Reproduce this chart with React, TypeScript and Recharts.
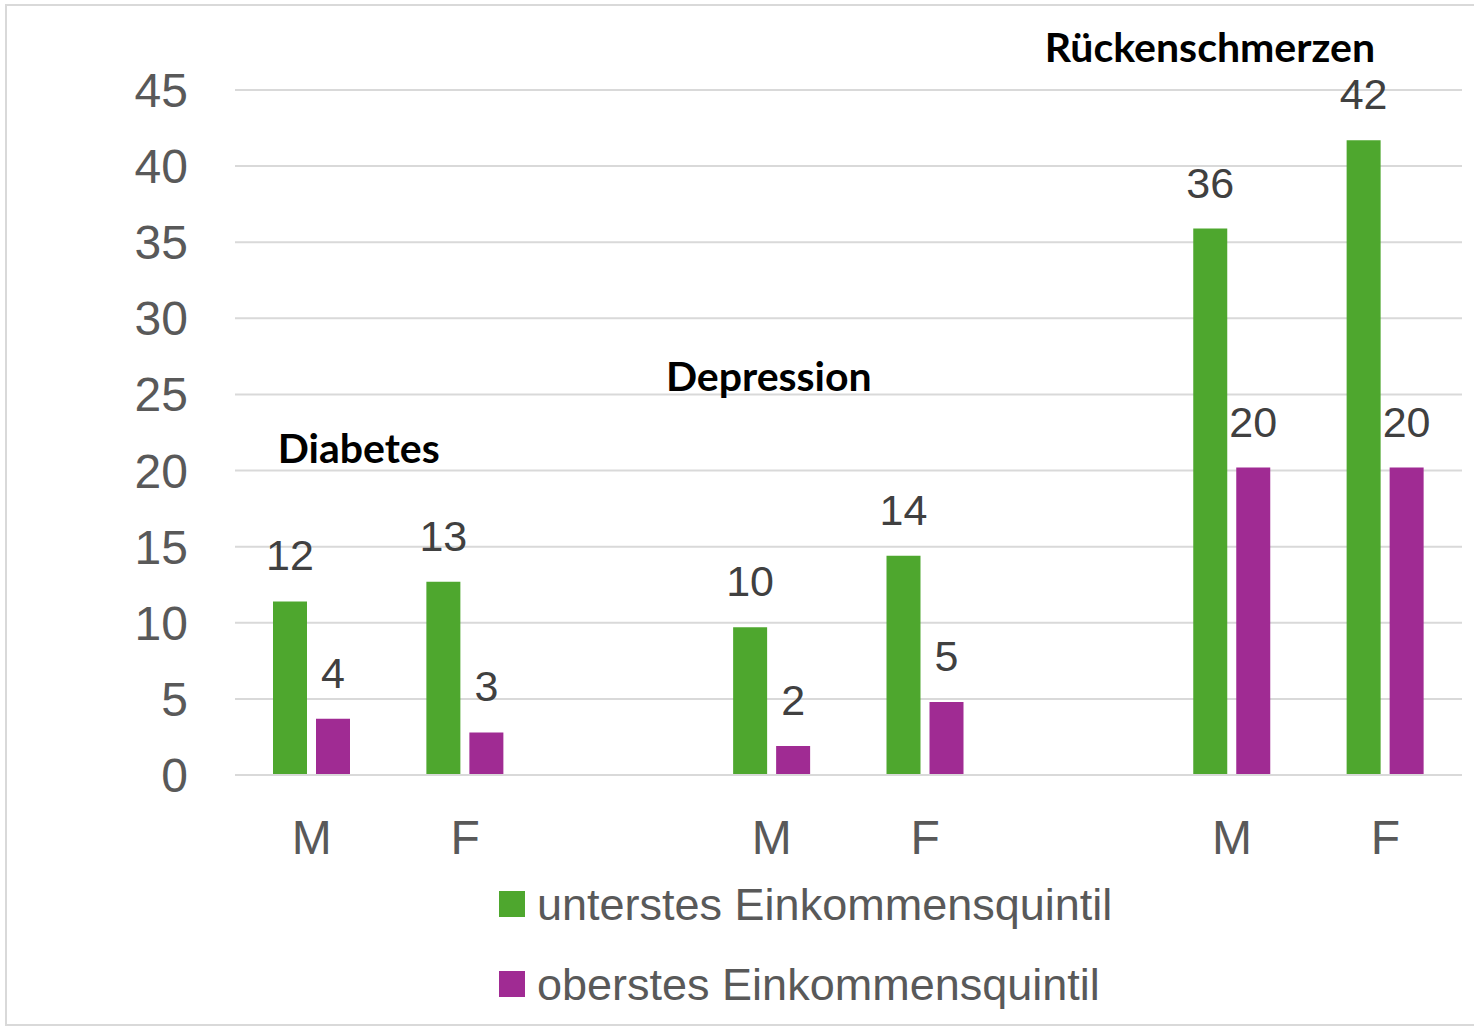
import { Bar, BarChart, CartesianGrid, LabelList, ReferenceDot, XAxis, YAxis } from 'recharts'

// x slots: three disease groups, each with M / F, separated by an empty slot
const CATEGORY_KEYS = ['diab-M', 'diab-F', 'gap-1', 'dep-M', 'dep-F', 'gap-2', 'rue-M', 'rue-F']
const SEX_LABELS = ['M', 'F', '', 'M', 'F', '', 'M', 'F']

const LOWEST_QUINTILE = [11.4, 12.7, null, 9.7, 14.4, null, 35.9, 41.7]
const HIGHEST_QUINTILE = [3.7, 2.8, null, 1.9, 4.8, null, 20.2, 20.2]

const LOWEST_LABELS = ['12', '13', '', '10', '14', '', '36', '42']
const HIGHEST_LABELS = ['4', '3', '', '2', '5', '', '20', '20']

const Y_TICKS = [0, 5, 10, 15, 20, 25, 30, 35, 40, 45]

const GROUP_TITLES = ['Diabetes', 'Depression', 'Rückenschmerzen']

const SERIES = [
  { key: 'lowest', labelKey: 'lowestLabel', name: 'unterstes Einkommensquintil', color: '#4ea72e' },
  { key: 'highest', labelKey: 'highestLabel', name: 'oberstes Einkommensquintil', color: '#a02b93' },
]

// where each group title sits (anchor slot, y in axis units, horizontal nudge)
const TITLE_ANCHORS = [
  { x: 'diab-M', y: 20.5, dx: 47 },
  { x: 'dep-M', y: 25.2, dx: -3 },
  { x: 'rue-M', y: 46.85, dx: -22 },
]

const data = CATEGORY_KEYS.map((key, i) => ({
  key,
  lowest: LOWEST_QUINTILE[i],
  highest: HIGHEST_QUINTILE[i],
  lowestLabel: LOWEST_LABELS[i],
  highestLabel: HIGHEST_LABELS[i],
}))

const FONT = '"Liberation Sans", Arial, sans-serif'

function titleLabel(text: string, dx: number) {
  return (props: any) => {
    const { viewBox } = props
    return (
      <text
        x={viewBox.x + dx}
        y={viewBox.y}
        textAnchor="middle"
        fontFamily="Lato, sans-serif"
        fontWeight={700}
        fontSize={41}
        fill="#000000"
      >
        {text}
      </text>
    )
  }
}

export default function App() {
  return (
    <div
      style={{
        position: 'absolute',
        left: 5,
        top: 4,
        width: 1469,
        height: 1018,
        borderTop: '2px solid #d9d9d9',
        borderLeft: '2px solid #d9d9d9',
        borderBottom: '2px solid #d9d9d9',
        background: '#ffffff',
      }}
    >
      <BarChart
        width={1460}
        height={1018}
        data={data}
        margin={{ top: 84, right: 5, left: 148, bottom: 149 }}
        barSize={34}
        barGap={9}
      >
        <CartesianGrid vertical={false} stroke="#d9d9d9" strokeWidth={2} />
        <XAxis
          dataKey="key"
          height={100}
          tickFormatter={(_v: string, i: number) => SEX_LABELS[i]}
          axisLine={{ stroke: '#d9d9d9', strokeWidth: 2 }}
          tickLine={false}
          tickSize={0}
          tickMargin={45}
          interval={0}
          tick={{ fill: '#595959', fontSize: 48, fontFamily: FONT }}
        />
        <YAxis
          width={80}
          domain={[0, 45]}
          ticks={Y_TICKS}
          axisLine={false}
          tickLine={false}
          tickSize={0}
          tickMargin={47}
          tick={{ fill: '#595959', fontSize: 48, fontFamily: FONT }}
        />
        {SERIES.map((s) => (
          <Bar key={s.key} dataKey={s.key} name={s.name} fill={s.color} isAnimationActive={false}>
            <LabelList
              dataKey={s.labelKey}
              position="top"
              offset={31}
              fill="#404040"
              fontSize={43}
              fontFamily={FONT}
            />
          </Bar>
        ))}
        {TITLE_ANCHORS.map((a, i) => (
          <ReferenceDot
            key={GROUP_TITLES[i]}
            x={a.x}
            y={a.y}
            r={0}
            fill="none"
            stroke="none"
            ifOverflow="visible"
            label={titleLabel(GROUP_TITLES[i], a.dx)}
          />
        ))}
      </BarChart>
      <div style={{ position: 'absolute', left: 492, top: 858, fontFamily: FONT }}>
        {SERIES.map((s) => (
          <div key={s.key} style={{ display: 'flex', alignItems: 'center', height: 80 }}>
            <span style={{ width: 26, height: 26, background: s.color, marginRight: 12 }} />
            <span style={{ fontSize: 45, color: '#595959', lineHeight: 1 }}>{s.name}</span>
          </div>
        ))}
      </div>
    </div>
  )
}
